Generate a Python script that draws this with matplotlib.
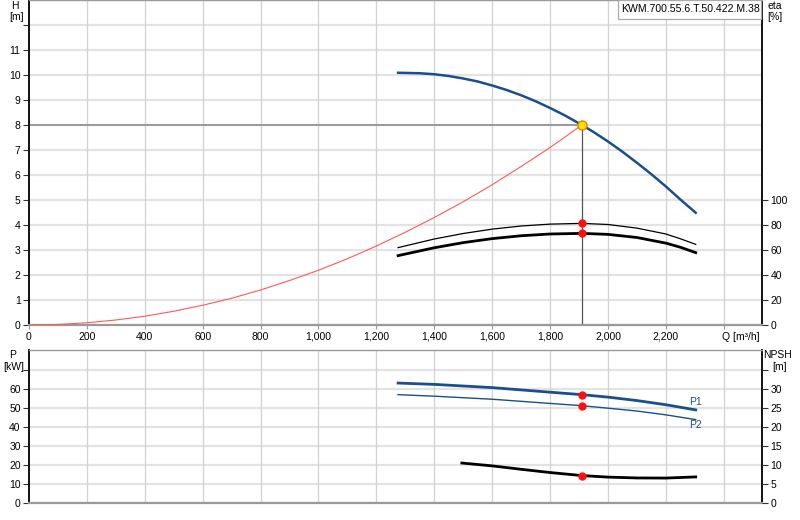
import matplotlib
matplotlib.use("Agg")
import matplotlib.pyplot as plt
from matplotlib.patches import Rectangle

plt.rcParams['font.family'] = ['Liberation Sans', 'DejaVu Sans']
plt.rcParams['font.size'] = 7.5

# ---- data ----
q_pump = [1275, 1350, 1400, 1450, 1500, 1550, 1600, 1650, 1700, 1750, 1800,
          1850, 1910, 1950, 2000, 2050, 2100, 2150, 2200, 2250, 2303]
h_pump = [10.09, 10.07, 10.03, 9.96, 9.86, 9.74, 9.58, 9.40, 9.19, 8.95, 8.68,
          8.39, 8.00, 7.72, 7.34, 6.93, 6.49, 6.03, 5.54, 5.02, 4.49]

q_sys = [0, 100, 200, 300, 400, 500, 600, 700, 800, 900, 1000, 1100, 1200,
         1300, 1400, 1500, 1600, 1700, 1800, 1910]
h_sys = [0, 0.02, 0.09, 0.20, 0.35, 0.55, 0.79, 1.07, 1.40, 1.78, 2.19, 2.65,
         3.16, 3.71, 4.30, 4.93, 5.61, 6.34, 7.10, 8.0]

q_eta = [1275, 1400, 1500, 1600, 1700, 1800, 1910, 2000, 2100, 2200, 2250, 2303]
eta_hyd = [61.9, 68.8, 73.2, 76.7, 79.2, 80.7, 81.3, 80.4, 77.5, 72.8, 69.0, 64.5]
eta_tot = [55.5, 61.8, 65.9, 69.1, 71.4, 72.8, 73.3, 72.5, 70.0, 65.5, 62.2, 57.9]

q_pow = [1275, 1400, 1600, 1800, 1910, 2000, 2100, 2200, 2303]
p1 = [63.0, 62.3, 60.6, 58.2, 56.9, 55.6, 53.8, 51.6, 48.9]
p2 = [56.9, 56.1, 54.5, 52.3, 51.1, 49.8, 48.3, 46.3, 43.8]

q_npsh = [1495, 1600, 1700, 1800, 1910, 2000, 2100, 2200, 2303]
npsh = [10.5, 9.75, 8.85, 8.0, 7.2, 6.8, 6.58, 6.55, 6.85]

duty_q = 1910
duty_h = 8.0
duty_eta = [81.3, 73.3]
duty_p = [56.9, 51.1]
duty_npsh = 7.2

x_ticks = [0, 200, 400, 600, 800, 1000, 1200, 1400, 1600, 1800, 2000, 2200, 2400]
x_labels = ['0', '200', '400', '600', '800', '1,000', '1,200', '1,400', '1,600',
            '1,800', '2,000', '2,200', '']
h_ticks = list(range(0, 13))
h_labels = [str(v) for v in range(0, 12)] + ['']
eta_ticks = [0, 20, 40, 60, 80, 100]
p_ticks = [0, 10, 20, 30, 40, 50, 60, 70]
p_labels = ['0', '10', '20', '30', '40', '50', '60', '']
npsh_ticks = [0, 5, 10, 15, 20, 25, 30, 35]
npsh_labels = ['0', '5', '10', '15', '20', '25', '30', '']
title = 'KWM.700.55.6.T.50.422.M.38'

BLUE = '#1b4f8c'
XMAX = 2532

fig = plt.figure(figsize=(8, 5.2), dpi=100)
ax = fig.add_axes([29/800, 1-325/520, (762-29)/800, 325/520])
axb = fig.add_axes([29/800, 1-503/520, (762-29)/800, (503-350.3)/520])


def style(a, yt, ylabels, ylim):
    a.set_xlim(0, XMAX)
    a.set_ylim(*ylim)
    a.set_xticks(x_ticks)
    a.set_yticks(yt)
    a.set_yticklabels(ylabels)
    for yv in yt:
        a.axhline(yv, color='#e3e3e3', lw=1.6, zorder=0)
    for xv in x_ticks[1:]:
        a.axvline(xv, color='#d2d2d2', lw=0.9, zorder=0)
    a.spines['left'].set_color('#111111')
    a.spines['left'].set_linewidth(1.4)
    a.spines['right'].set_color('#111111')
    a.spines['right'].set_linewidth(1.4)
    a.spines['top'].set_color('#9a9a9a')
    a.spines['top'].set_linewidth(1.0)
    a.spines['bottom'].set_color('#9a9a9a')
    a.spines['bottom'].set_linewidth(1.6)
    a.tick_params(axis='y', length=4, width=0.8, color='#333333', pad=2)
    a.tick_params(axis='x', length=3, width=0.8, color='#999999', pad=2)


style(ax, h_ticks, h_labels, (0, 13))
ax.set_xticklabels(x_labels)
ax.text(2395, -0.3, 'Q [m³/h]', ha='left', va='top', fontsize=7.5)

# duty lines
ax.plot([0, duty_q], [duty_h, duty_h], color='#9a9a9a', lw=1.4, zorder=2)
ax.plot([duty_q, duty_q], [0, duty_h], color='#555555', lw=0.9, zorder=2)

ax.plot(q_sys, h_sys, color='#ff5a5a', lw=0.8, zorder=3)
ax.plot(q_pump, h_pump, color=BLUE, lw=1.8, zorder=4, solid_joinstyle='round')
ax.plot([duty_q], [duty_h], 'o', ms=6.5, mfc='#ffe000', mec='#f08000', mew=1.0, zorder=6)

axe = ax.twinx()
axe.set_ylim(0, 260)
axe.set_yticks(eta_ticks)
axe.tick_params(axis='y', length=4, width=0.8, color='#333333', pad=2)
for s in axe.spines.values():
    s.set_visible(False)
axe.plot(q_eta, eta_hyd, color='black', lw=0.9, zorder=4)
axe.plot(q_eta, eta_tot, color='black', lw=2.0, zorder=4, solid_joinstyle='round')
axe.plot([duty_q, duty_q], duty_eta, 'o', color='#ff1010', ms=5, zorder=6)

# title box
fig.add_artist(Rectangle((618/800, 1-19/520), (761-618)/800, 19/520, transform=fig.transFigure,
                         fc='white', ec='#aaaaaa', lw=0.9, zorder=10))
fig.text(690/800, 1-9.5/520, title, ha='center', va='center', fontsize=7.6, zorder=11)

# bottom plot
style(axb, p_ticks, p_labels, (0, 80.2))
axb.tick_params(axis='x', labelbottom=False, length=0)
axb.plot(q_pow, p1, color=BLUE, lw=2.0, zorder=4, solid_joinstyle='round')
axb.plot(q_pow, p2, color=BLUE, lw=1.0, zorder=4)
axb.plot([duty_q, duty_q], duty_p, 'o', color='#ff1010', ms=5, zorder=6)
axb.text(2280, 53.0, 'P1', color=BLUE, fontsize=7.5, ha='left', va='center')
axb.text(2280, 40.9, 'P2', color=BLUE, fontsize=7.5, ha='left', va='center')

axn = axb.twinx()
axn.set_ylim(0, 40.1)
axn.set_yticks(npsh_ticks)
axn.set_yticklabels(npsh_labels)
axn.tick_params(axis='y', length=4, width=0.8, color='#333333', pad=2)
for s in axn.spines.values():
    s.set_visible(False)
axn.plot(q_npsh, npsh, color='black', lw=2.0, zorder=4, solid_joinstyle='round')
axn.plot([duty_q], [duty_npsh], 'o', color='#ff1010', ms=5, zorder=6)

# axis labels
fig.text(15/800, 1-6/520, 'H', ha='center', va='center', fontsize=7.5)
fig.text(17/800, 1-17/520, '[m]', ha='center', va='center', fontsize=7.5)
fig.text(775/800, 1-6/520, 'eta', ha='center', va='center', fontsize=7.5)
fig.text(775/800, 1-17/520, '[%]', ha='center', va='center', fontsize=7.5)
fig.text(13/800, 1-355/520, 'P', ha='center', va='center', fontsize=7.5)
fig.text(14/800, 1-367/520, '[kW]', ha='center', va='center', fontsize=7.5)
fig.text(777/800, 1-355/520, 'NPSH', ha='center', va='center', fontsize=7.5)
fig.text(780/800, 1-367/520, '[m]', ha='center', va='center', fontsize=7.5)

fig.savefig('out.png', dpi=100)
